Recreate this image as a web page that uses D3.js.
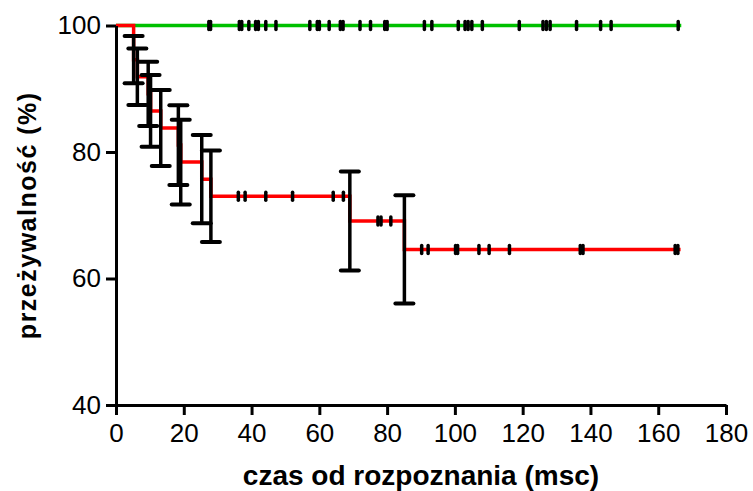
<!DOCTYPE html>
<html>
<head>
<meta charset="utf-8">
<script src="https://cdn.jsdelivr.net/npm/d3@7"></script>
<style>
  body { margin: 0; background: #fff; }
  text { font-family: 'Liberation Sans', Arial, sans-serif; }
</style>
</head>
<body>
<div id="chart"></div>
<script>
// red group: event times (msc), survival after each step (%), standard error (%)
const redTimes = [0, 5.2, 6.3, 9.5, 10.2, 13.2, 18.4, 19.1, 25.3, 28.0, 69.0, 85.1];
const redSurvival = [100, 94.6, 91.9, 89.2, 86.5, 83.8, 81.1, 78.4, 75.7, 73.0, 69.1, 64.6];
const redSE = [0, 3.73, 4.47, 5.07, 5.66, 6.0, 6.3, 6.71, 6.97, 7.24, 7.82, 8.55];
const redEnd = 166.6;
const redCensored = [36.1, 38.1, 44.2, 52.1, 64.1, 67.1, 77.3, 78.2, 81.1, 90.2, 92.1,
  100.2, 100.8, 107.1, 110.1, 116.1, 137.0, 137.8, 165.0, 165.8];

// green group: no events, only censored patients
const greenTimes = [0];
const greenSurvival = [100];
const greenEnd = 166.8;
const greenCensored = [27.4, 27.9, 36.4, 37.1, 39.2, 41.2, 42.0, 44.2, 47.2, 57.2, 59.4, 60.0,
  62.9, 66.2, 67.0, 72.0, 75.1, 79.3, 80.0, 91.0, 93.2, 101.0, 103.0, 103.9, 105.0, 108.1,
  119.0, 126.0, 127.0, 128.1, 135.9, 143.0, 146.1, 165.9];

const xTicks = [0, 20, 40, 60, 80, 100, 120, 140, 160, 180];
const yTicks = [40, 60, 80, 100];

const width = 753;
const height = 491;

const x = d3.scaleLinear().domain([0, 180]).range([116, 726]);
const y = d3.scaleLinear().domain([40, 100]).range([405, 25.5]);

const svg = d3.select('#chart')
  .append('svg')
  .attr('width', width)
  .attr('height', height);

// step path for a survival curve
function stepPoints(times, surv, end) {
  const pts = [];
  times.forEach((t, i) => {
    if (i > 0) pts.push([t, surv[i - 1]]);
    pts.push([t, surv[i]]);
  });
  pts.push([end, surv[surv.length - 1]]);
  return pts;
}

function survivalAt(times, surv, t) {
  let v = surv[0];
  times.forEach((tt, i) => { if (tt <= t) v = surv[i]; });
  return v;
}

const line = d3.line().x(d => x(d[0])).y(d => y(d[1]));

function drawCurve(times, surv, end, color) {
  svg.append('path')
    .datum(stepPoints(times, surv, end))
    .attr('fill', 'none')
    .attr('stroke', color)
    .attr('stroke-width', 3.5)
    .attr('d', line);
}

drawCurve(greenTimes, greenSurvival, greenEnd, '#00c000');
drawCurve(redTimes, redSurvival, redEnd, '#ff0000');

// error bars (SE) at each event of the red curve
const bars = svg.append('g').attr('stroke', '#000').attr('stroke-width', 3.5);
redTimes.forEach((t, i) => {
  if (i === 0) return;
  const hi = redSurvival[i] + redSE[i];
  const lo = redSurvival[i] - redSE[i];
  bars.append('line')
    .attr('x1', x(t)).attr('x2', x(t))
    .attr('y1', y(hi)).attr('y2', y(lo));
  [hi, lo].forEach(v => {
    bars.append('line')
      .attr('x1', x(t) - 9).attr('x2', x(t) + 9)
      .attr('y1', y(v)).attr('y2', y(v))
      .attr('stroke-width', 4)
      .attr('stroke-linecap', 'round');
  });
});

// censor marks
function drawCensored(list, times, surv) {
  svg.append('g')
    .selectAll('line')
    .data(list)
    .join('line')
    .attr('x1', d => x(d)).attr('x2', d => x(d))
    .attr('y1', d => y(survivalAt(times, surv, d)) - 4)
    .attr('y2', d => y(survivalAt(times, surv, d)) + 4)
    .attr('stroke', '#000')
    .attr('stroke-width', 3.5)
    .attr('stroke-linecap', 'round');
}
drawCensored(greenCensored, greenTimes, greenSurvival);
drawCensored(redCensored, redTimes, redSurvival);

// axes
const xAxis = svg.append('g')
  .attr('transform', `translate(0, ${y(40)})`)
  .call(d3.axisBottom(x).tickValues(xTicks).tickSize(10).tickSizeOuter(0).tickPadding(9));
const yAxis = svg.append('g')
  .attr('transform', `translate(${x(0)}, 0)`)
  .call(d3.axisLeft(y).tickValues(yTicks).tickSize(10).tickSizeOuter(0).tickPadding(5));

[xAxis, yAxis].forEach(g => {
  g.select('.domain').attr('stroke', '#000').attr('stroke-width', 3);
  g.selectAll('.tick line').attr('stroke', '#000').attr('stroke-width', 3);
  g.selectAll('.tick text')
    .attr('fill', '#000')
    .style('font-size', '26px')
    .style('font-family', "'Liberation Sans', Arial, sans-serif");
});

// axis titles
svg.append('text')
  .attr('x', (x(0) + x(180)) / 2)
  .attr('y', 485)
  .attr('text-anchor', 'middle')
  .style('font-size', '28px')
  .style('font-weight', 'bold')
  .text('czas od rozpoznania (msc)');

svg.append('text')
  .attr('transform', `translate(36, ${(y(40) + y(100)) / 2}) rotate(-90)`)
  .attr('text-anchor', 'middle')
  .style('font-size', '25px')
  .style('font-weight', 'bold')
  .style('letter-spacing', '1.5px')
  .text('przeżywalność (%)');
</script>
</body>
</html>
